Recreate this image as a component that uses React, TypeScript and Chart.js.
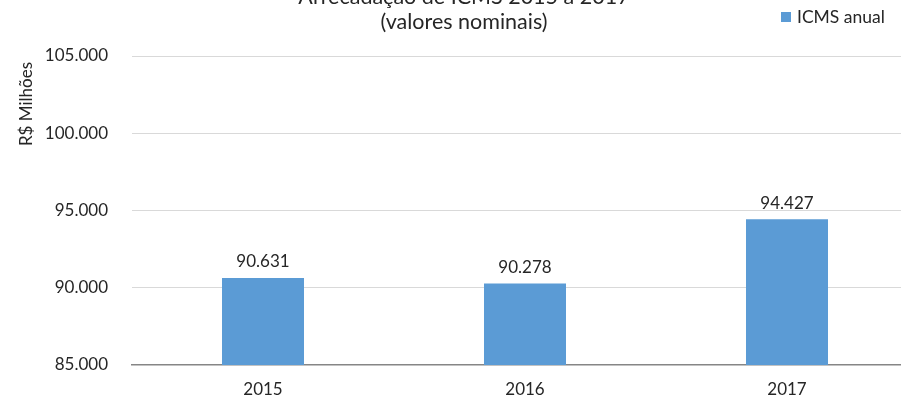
import React, { useEffect, useRef } from "react";
import { Chart, registerables } from "chart.js";

Chart.register(...registerables);

const categories = ["2015", "2016", "2017"];
const icmsAnual = [90631, 90278, 94427];
const seriesName = "ICMS anual";
const titleLines = ["Arrecadação de ICMS 2015 a 2017", "(valores nominais)"];
const yAxisTitle = "R$ Milhões";
const yMin = 85000;
const yMax = 105000;
const yStep = 5000;

const FONT = "Lato";
const TXT = "#262626";
const BAR = "#5b9bd5";

const fmt = (v: number) =>
  Math.round(v)
    .toString()
    .replace(/\B(?=(\d{3})+(?!\d))/g, ".");

const overlay = {
  id: "overlay",
  afterDatasetsDraw(chart: any) {
    const ctx = chart.ctx;
    ctx.save();
    ctx.fillStyle = TXT;
    // data labels
    ctx.font = `17px ${FONT}`;
    ctx.textAlign = "center";
    ctx.textBaseline = "middle";
    const meta = chart.getDatasetMeta(0);
    meta.data.forEach((el: any, i: number) => {
      ctx.fillText(fmt(chart.data.datasets[0].data[i]), el.x, el.y - 16);
    });
    // title
    ctx.font = `21.5px ${FONT}`;
    ctx.textBaseline = "alphabetic";
    ctx.fillText(titleLines[0], 464, 4);
    ctx.fillText(titleLines[1], 464, 29);
    // legend
    ctx.fillStyle = BAR;
    ctx.fillRect(781, 12, 10, 10);
    ctx.fillStyle = TXT;
    ctx.font = `17.5px ${FONT}`;
    ctx.textAlign = "left";
    ctx.textBaseline = "middle";
    ctx.fillText(seriesName, 797, 17);
    // y axis title
    ctx.font = `17px ${FONT}`;
    ctx.translate(27, 104);
    ctx.rotate(-Math.PI / 2);
    ctx.textAlign = "center";
    ctx.fillText(yAxisTitle, 0, 0);
    ctx.restore();
  },
};

export default function App() {
  const ref = useRef<HTMLCanvasElement>(null);
  useEffect(() => {
    if (!ref.current) return;
    const chart = new Chart(ref.current, {
      type: "bar",
      data: {
        labels: categories,
        datasets: [
          {
            label: seriesName,
            data: icmsAnual,
            backgroundColor: BAR,
            barPercentage: 0.313,
            categoryPercentage: 1,
          },
        ],
      },
      options: {
        responsive: false,
        animation: false,
        layout: { padding: { top: 56, right: 22, left: 0, bottom: 0 } },
        plugins: {
          legend: { display: false },
          title: { display: false },
          tooltip: { enabled: false },
        },
        scales: {
          x: {
            grid: { display: false, drawTicks: false },
            border: { display: true, color: "#868686", width: 1.5 },
            ticks: { color: TXT, font: { family: FONT, size: 17 }, padding: 14 },
            afterFit: (s: any) => {
              s.height = 35;
            },
          },
          y: {
            min: yMin,
            max: yMax,
            ticks: {
              stepSize: yStep,
              color: TXT,
              font: { family: FONT, size: 17 },
              padding: 24,
              callback: (v: any) => fmt(Number(v)),
            },
            grid: {
              drawTicks: false,
              color: (c: any) => (c.tick && c.tick.value === yMin ? "rgba(0,0,0,0)" : "#d9d9d9"),
              lineWidth: 1,
            },
            border: { display: false },
            afterFit: (s: any) => {
              s.width = 132;
            },
          },
        },
      },
      plugins: [overlay],
    });
    return () => chart.destroy();
  }, []);
  return (
    <div
      style={{
        position: "fixed",
        left: 0,
        top: 0,
        width: 901,
        height: 400,
        overflow: "hidden",
        background: "#fff",
      }}
    >
      <canvas ref={ref} width={940} height={400} style={{ width: 940, height: 400, display: "block" }} />
    </div>
  );
}
